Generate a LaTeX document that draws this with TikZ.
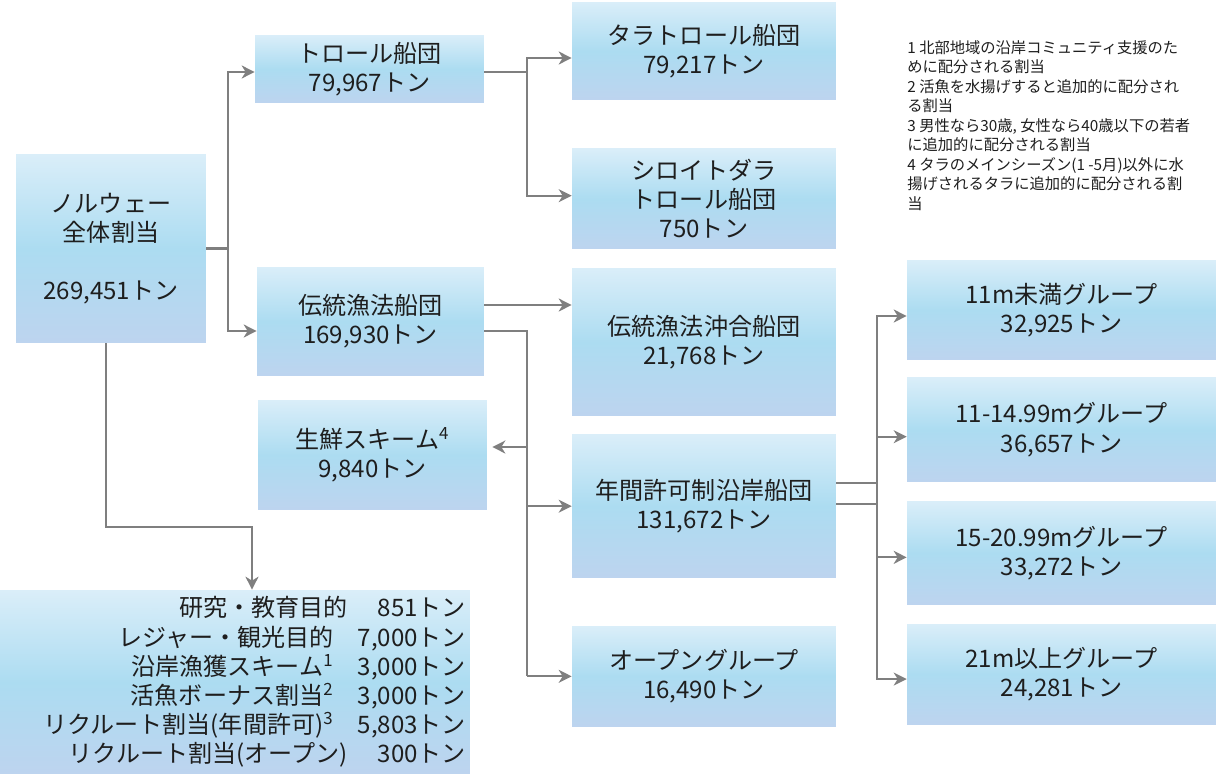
\documentclass[tikz,border=0pt]{standalone}
\usepackage{fontspec}
\setmainfont{Noto Sans CJK JP}
\usetikzlibrary{arrows.meta, positioning}

\definecolor{boxtop}{HTML}{DAEEF9}
\definecolor{boxmid}{HTML}{ACDCF1}
\definecolor{boxbot}{HTML}{BDD4EF}
\definecolor{linegray}{HTML}{7F7F7F}
\definecolor{txt}{HTML}{1E1E1E}

\begin{document}
\begin{tikzpicture}[
    x=0.02cm, y=-0.02cm,
    box/.style={rectangle, top color=boxtop, bottom color=boxbot, middle color=boxmid, inner sep=0pt, align=center, text=txt, font=\fontsize{13.7}{16.6}\selectfont},
    conn/.style={draw=linegray, line width=1.15pt},
    arrow/.style={conn, -{Stealth[length=0.26cm, width=0.26cm, inset=0.08cm]}},
    note/.style={align=left, inner sep=0pt, text=txt, font=\fontsize{8.7}{11.1}\selectfont}
]
\useasboundingbox (0,0) rectangle (1216,774);

% ==== Total ====
\node[box, minimum width=3.8cm, minimum height=3.78cm] (total) at (111,248.5) {ノルウェー\\全体割当\\[16.6pt]269,451トン};

% ==== Fleets ====
\node[box, minimum width=4.58cm, minimum height=1.36cm] (trawl) at (369.5,69) {トロール船団\\79,967トン};
\node[box, minimum width=4.54cm, minimum height=2.18cm] (coastal) at (370.5,321.5) {伝統漁法船団\\169,930トン};
\node[box, minimum width=4.58cm, minimum height=2.2cm] (fresh) at (372.5,455) {生鮮スキーム\textsuperscript{4}\\9,840トン};

% ==== Trawl groups ====
\node[box, minimum width=5.28cm, minimum height=1.96cm] (codtrawl) at (704,51) {タラトロール船団\\79,217トン};
\node[box, minimum width=5.28cm, minimum height=2cm, below=0.96cm of codtrawl] (saithe) {シロイトダラ\\トロール船団\\750トン};

% ==== Coastal groups ====
\node[box, minimum width=5.28cm, minimum height=2.96cm] (offshore) at (704,342) {伝統漁法沖合船団\\21,768トン};
\node[box, minimum width=5.28cm, minimum height=2.86cm, below=0.36cm of offshore] (annual) {年間許可制沿岸船団\\131,672トン};
\node[box, minimum width=5.28cm, minimum height=2cm, below=0.96cm of annual] (open) {オープングループ\\16,490トン};

% ==== Length groups ====
\node[box, minimum width=6.18cm, minimum height=2cm] (groupA) at (1061.5,310) {11m未満グループ\\32,925トン};
\node[box, minimum width=6.18cm, minimum height=2.08cm, below=0.34cm of groupA] (groupB) {11-14.99mグループ\\36,657トン};
\node[box, minimum width=6.18cm, minimum height=2.06cm, below=0.38cm of groupB] (groupC) {15-20.99mグループ\\33,272トン};
\node[box, minimum width=6.18cm, minimum height=2cm, below=0.38cm of groupC] (groupD) {21m以上グループ\\24,281トン};

% ==== Set-asides ====
\node[box, minimum width=9.4cm, minimum height=3.68cm, text width=9.24cm, align=right] (other) at (235,682) {%
研究・教育目的\hspace{1.25em}851トン\\
レジャー・観光目的\quad 7,000トン\\
沿岸漁獲スキーム\textsuperscript{1}\quad 3,000トン\\
活魚ボーナス割当\textsuperscript{2}\quad 3,000トン\\
リクルート割当(年間許可)\textsuperscript{3}\quad 5,803トン\\
リクルート割当(オープン)\hspace{1.25em}300トン};

% ==== Notes ====
\node[note, anchor=north west] (notes) at (907,40) {%
1 北部地域の沿岸コミュニティ支援のた\\
めに配分される割当\\
2 活魚を水揚げすると追加的に配分され\\
る割当\\
3 男性なら30歳, 女性なら40歳以下の若者\\
に追加的に配分される割当\\
4 タラのメインシーズン(1 -5月)以外に水\\
揚げされるタラに追加的に配分される割\\
当};

% ==== Relations ====
\draw[conn] (total.east) -- ++(22,0) coordinate (split1);
\draw[arrow] (split1) |- ([yshift=-0.06cm]trawl.west);
\draw[arrow] (split1) |- ([yshift=-0.19cm]coastal.west);

\draw[conn] ([yshift=-0.06cm]trawl.east) -- ++(43,0) coordinate (split2);
\draw[arrow] (split2) |- ([yshift=-0.14cm]codtrawl.west);
\draw[arrow] (split2) |- ([yshift=0.06cm]saithe.west);

\draw[arrow] ([yshift=0.33cm]coastal.east) coordinate (c1) -- (offshore.west |- c1);
\draw[conn] ([yshift=-0.19cm]coastal.east) -- ++(43,0) coordinate (split3) -- (split3 |- open.west);
\path ([xshift=0.1cm, yshift=0.16cm]fresh.east) coordinate (f1);
\draw[arrow] (split3 |- f1) -- (f1);
\draw[arrow] (split3 |- annual.west) -- (annual.west);
\draw[arrow] (split3 |- open.west) -- (open.west);

\draw[conn] ([yshift=0.47cm]annual.east) -- ++(41,0) coordinate (split4);
\draw[conn] ([yshift=0.05cm]annual.east) -- ++(41,0);
\draw[arrow] (split4) |- ([yshift=-0.12cm]groupA.west);
\draw[arrow] (split4) |- ([yshift=-0.14cm]groupB.west);
\draw[arrow] (split4) |- ([yshift=-0.09cm]groupC.west);
\draw[arrow] (split4) |- ([yshift=-0.1cm]groupD.west);

\draw[arrow] ([xshift=-0.1cm]total.south) -- ++(0,184) -| ([xshift=0.34cm]other.north);

\end{tikzpicture}
\end{document}
